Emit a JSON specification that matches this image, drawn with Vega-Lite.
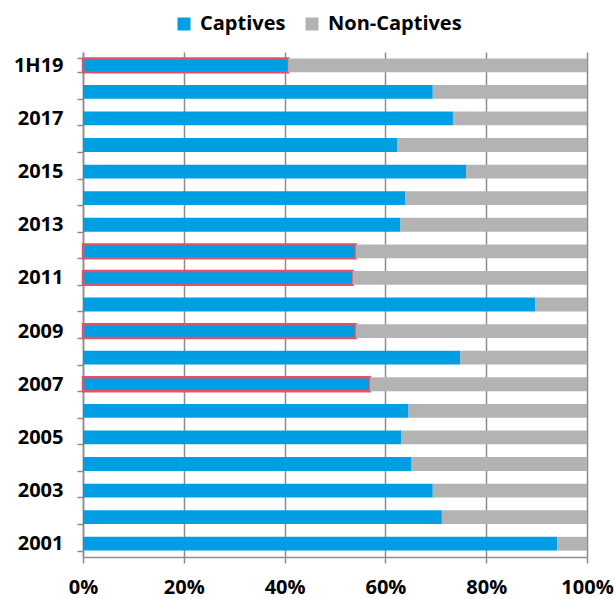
{
  "$schema": "https://vega.github.io/schema/vega-lite/v6.json",
  "width": 504,
  "height": 505,
  "autosize": {"type": "none"},
  "padding": {"left": 83, "top": 52, "right": 29, "bottom": 42},
  "background": "white",
  "config": {
    "font": "Open Sans",
    "view": {"stroke": null}
  },
  "data": {
    "values": [
      {"year": "1H19", "type": "Captives", "share": 40.7},
      {"year": "1H19", "type": "Non-Captives", "share": 59.3},
      {"year": "2018", "type": "Captives", "share": 69.4},
      {"year": "2018", "type": "Non-Captives", "share": 30.6},
      {"year": "2017", "type": "Captives", "share": 73.4},
      {"year": "2017", "type": "Non-Captives", "share": 26.6},
      {"year": "2016", "type": "Captives", "share": 62.3},
      {"year": "2016", "type": "Non-Captives", "share": 37.7},
      {"year": "2015", "type": "Captives", "share": 76.0},
      {"year": "2015", "type": "Non-Captives", "share": 24.0},
      {"year": "2014", "type": "Captives", "share": 63.9},
      {"year": "2014", "type": "Non-Captives", "share": 36.1},
      {"year": "2013", "type": "Captives", "share": 63.0},
      {"year": "2013", "type": "Non-Captives", "share": 37.0},
      {"year": "2012", "type": "Captives", "share": 54.1},
      {"year": "2012", "type": "Non-Captives", "share": 45.9},
      {"year": "2011", "type": "Captives", "share": 53.5},
      {"year": "2011", "type": "Non-Captives", "share": 46.5},
      {"year": "2010", "type": "Captives", "share": 89.7},
      {"year": "2010", "type": "Non-Captives", "share": 10.3},
      {"year": "2009", "type": "Captives", "share": 54.1},
      {"year": "2009", "type": "Non-Captives", "share": 45.9},
      {"year": "2008", "type": "Captives", "share": 74.8},
      {"year": "2008", "type": "Non-Captives", "share": 25.2},
      {"year": "2007", "type": "Captives", "share": 56.9},
      {"year": "2007", "type": "Non-Captives", "share": 43.1},
      {"year": "2006", "type": "Captives", "share": 64.6},
      {"year": "2006", "type": "Non-Captives", "share": 35.4},
      {"year": "2005", "type": "Captives", "share": 63.2},
      {"year": "2005", "type": "Non-Captives", "share": 36.8},
      {"year": "2004", "type": "Captives", "share": 65.2},
      {"year": "2004", "type": "Non-Captives", "share": 34.8},
      {"year": "2003", "type": "Captives", "share": 69.4},
      {"year": "2003", "type": "Non-Captives", "share": 30.6},
      {"year": "2002", "type": "Captives", "share": 71.2},
      {"year": "2002", "type": "Non-Captives", "share": 28.8},
      {"year": "2001", "type": "Captives", "share": 94.1},
      {"year": "2001", "type": "Non-Captives", "share": 5.9}
    ]
  },
  "mark": {"type": "bar"},
  "encoding": {
    "y": {
      "field": "year",
      "type": "nominal",
      "sort": ["1H19","2018","2017","2016","2015","2014","2013","2012","2011","2010","2009","2008","2007","2006","2005","2004","2003","2002","2001"],
      "scale": {"paddingInner": 0.48, "paddingOuter": 0.24},
      "axis": {
        "title": null,
        "labelExpr": "indexof(['1H19','2017','2015','2013','2011','2009','2007','2005','2003','2001'], datum.value) >= 0 ? datum.value : ''",
        "labelFont": "Open Sans",
        "labelFontSize": 20,
        "labelFontWeight": "bold",
        "labelColor": "#000000",
        "labelPadding": 14,
        "tickBand": "extent",
        "tickSize": 6,
        "tickColor": "#8c8c8c",
        "tickWidth": 1.5,
        "domainColor": "#8c8c8c",
        "domainWidth": 1.5,
        "grid": false
      }
    },
    "x": {
      "field": "share",
      "type": "quantitative",
      "stack": "normalize",
      "scale": {"domain": [0, 1], "nice": false},
      "axis": {
        "title": null,
        "values": [0, 0.2, 0.4, 0.6, 0.8, 1],
        "format": ".0%",
        "labelFont": "Open Sans",
        "labelFontSize": 20,
        "labelFontWeight": "bold",
        "labelColor": "#000000",
        "labelPadding": 14,
        "labelFlush": false,
        "tickSize": 6,
        "tickColor": "#8c8c8c",
        "tickWidth": 1.5,
        "domainColor": "#8c8c8c",
        "domainWidth": 1.5,
        "grid": true,
        "gridColor": "#8c8c8c",
        "gridWidth": 1.5
      }
    },
    "color": {
      "field": "type",
      "type": "nominal",
      "scale": {"domain": ["Captives", "Non-Captives"], "range": ["#009FE3", "#B3B3B3"]},
      "legend": {
        "title": null,
        "orient": "none",
        "direction": "horizontal",
        "legendX": 91,
        "legendY": -38,
        "padding": 0,
        "symbolType": "square",
        "symbolSize": 169,
        "symbolStrokeWidth": 0,
        "symbolOpacity": 1,
        "labelFont": "Open Sans",
        "labelFontSize": 20,
        "labelFontWeight": "bold",
        "labelColor": "#000000",
        "labelOffset": 6,
        "columnPadding": 16
      }
    },
    "order": {"field": "type", "sort": "ascending"},
    "stroke": {
      "condition": {
        "test": "datum.type === 'Captives' && indexof(['1H19','2012','2011','2009','2007'], datum.year) >= 0",
        "value": "#E2506A"
      },
      "value": null
    },
    "strokeWidth": {
      "condition": {
        "test": "datum.type === 'Captives' && indexof(['1H19','2012','2011','2009','2007'], datum.year) >= 0",
        "value": 2.5
      },
      "value": 0
    }
  }
}
